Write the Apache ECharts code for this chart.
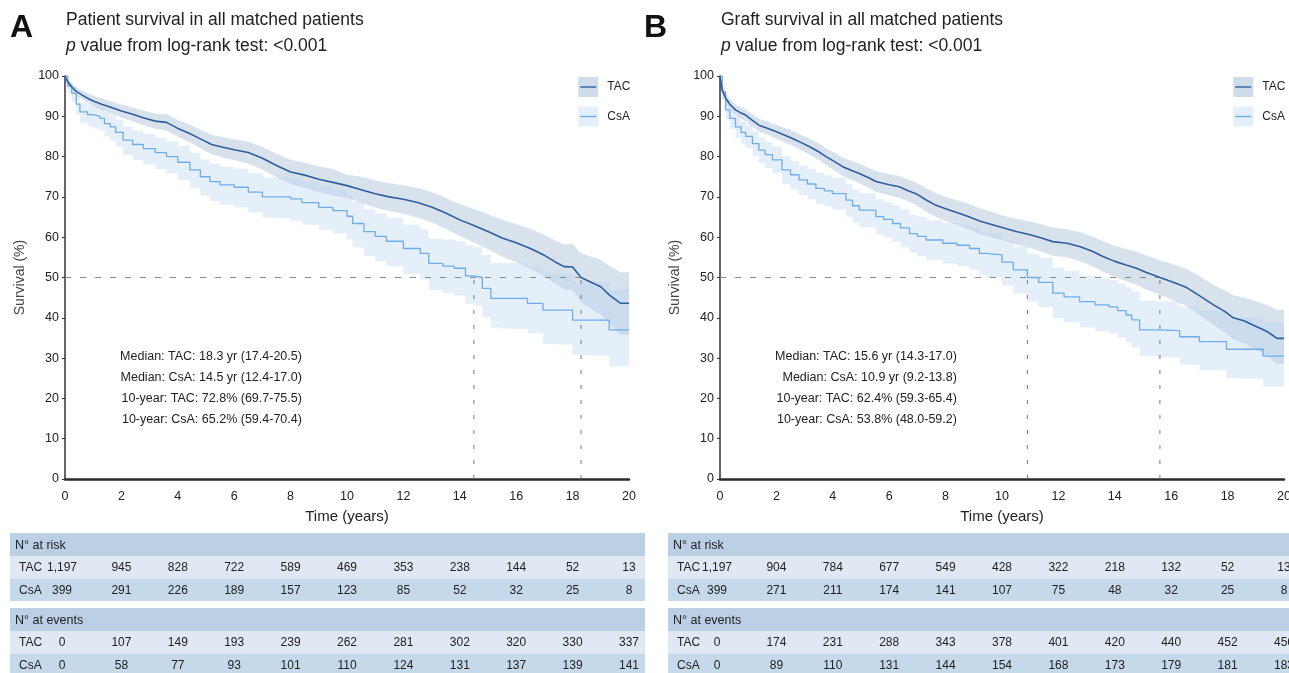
<!DOCTYPE html>
<html>
<head>
<meta charset="utf-8">
<script src="https://cdn.jsdelivr.net/npm/echarts@6/dist/echarts.min.js"></script>
<style>
  html, body { margin: 0; padding: 0; background: #fff; }
  #chart { width: 1289px; height: 673px; }
</style>
</head>
<body>
<div id="chart"></div>
<script>
// ---- shared axis ticks (years) ----
const yearTicks = [0, 2, 4, 6, 8, 10, 12, 14, 16, 18, 20];

// ---- Panel A: patient survival ----
const aTacT  = [0,0.1,0.25,0.4,0.6,0.8,1.0,1.3,1.6,2.0,2.4,2.8,3.2,3.6,4.0,4.4,4.8,5.2,5.6,6.0,6.5,7.0,7.5,8.0,8.5,9.0,9.5,10.0,10.5,11.0,11.5,12.0,12.5,13.0,13.5,14.0,14.5,15.0,15.5,16.0,16.5,17.0,17.4,17.7,18.0,18.3,18.6,19.0,19.3,19.7,20];
const aTacS  = [100,98.5,97.2,96.2,95.3,94.5,93.8,93.0,92.3,91.3,90.5,89.6,88.8,88.5,87.0,85.8,84.4,83.0,82.3,81.7,81.0,79.6,77.8,76.2,75.4,74.4,73.6,72.8,71.8,70.8,70.0,69.4,68.6,67.5,66.0,64.3,62.9,61.4,59.8,58.6,57.2,55.5,53.8,52.7,52.6,50.0,49.0,47.7,45.7,43.6,43.6];
const aTacLo = [100,97.8,96.3,95.2,94.2,93.3,92.5,91.6,90.8,89.7,88.8,87.8,86.9,86.5,84.9,83.6,82.1,80.6,79.8,79.1,78.3,76.8,74.9,73.2,72.3,71.2,70.3,69.7,68.5,67.4,66.5,65.8,64.9,63.7,62.1,60.3,58.7,57.0,55.2,53.8,52.2,50.3,48.4,47.1,46.8,44.0,42.5,40.8,38.4,35.8,35.8];
const aTacHi = [100,99.2,98.1,97.2,96.4,95.7,95.1,94.4,93.8,92.9,92.2,91.4,90.7,90.5,89.1,88.0,86.7,85.4,84.8,84.3,83.7,82.4,80.7,79.2,78.5,77.6,76.9,75.5,75.0,74.1,73.4,72.9,72.2,71.2,69.8,68.2,67.0,65.7,64.3,63.3,62.1,60.6,59.1,58.2,58.3,56.0,55.3,54.4,52.9,51.3,51.3];

const aCsaT  = [0,0.1,0.24,0.4,0.53,0.8,1.0,1.24,1.4,1.6,1.8,2.06,2.4,2.78,3.2,3.6,4.0,4.43,4.8,5.14,5.5,6.0,6.5,7.0,7.5,8.0,8.4,9.0,9.5,10.0,10.2,10.6,11.0,11.4,12.0,12.6,12.9,13.4,13.8,14.2,14.5,14.8,15.1,15.5,16.0,16.4,16.95,17.5,18.0,18.5,19.3,20];
const aCsaS  = [100,97.5,95.7,93.0,91.1,90.4,90.0,89.5,88.2,87.4,86.0,84.1,83.0,82.0,81.0,80.0,78.6,76.7,75.0,73.8,73.0,72.4,71.2,70.0,70.0,69.5,68.6,67.4,66.6,65.2,63.4,61.4,60.2,59.0,57.2,56.0,53.5,52.8,52.3,50.4,50.0,47.3,44.8,44.8,44.8,43.6,41.9,41.9,39.4,39.4,37.0,37.0];
const aCsaLo = [100,96.0,93.6,90.5,88.4,87.5,87.0,86.4,85.0,84.0,82.5,80.4,79.2,78.0,76.9,75.8,74.2,72.2,70.3,69.0,68.1,67.4,66.1,64.8,64.7,64.1,63.1,61.8,60.9,59.4,57.5,55.4,54.1,52.8,50.9,49.5,46.9,46.1,45.5,43.5,43.0,40.2,37.6,37.3,37.2,36.1,33.5,33.4,30.8,30.6,27.9,27.9];
const aCsaHi = [100,98.8,97.4,95.1,93.4,92.8,92.6,92.2,91.1,90.4,89.2,87.4,86.4,85.6,84.7,83.8,82.6,80.9,79.3,78.3,77.5,77.0,75.9,74.8,74.9,74.5,73.7,72.6,71.9,70.4,68.8,67.0,65.9,64.8,63.1,62.0,59.7,59.4,59.0,58.0,57.6,55.6,53.6,53.6,53.6,52.6,51.0,51.0,49.0,48.8,47.0,47.0];

const aMedianTac = 18.3;
const aMedianCsa = 14.5;
const aNotes = [
  'Median: TAC: 18.3 yr (17.4-20.5)',
  'Median: CsA: 14.5 yr (12.4-17.0)',
  '10-year: TAC: 72.8% (69.7-75.5)',
  '10-year: CsA: 65.2% (59.4-70.4)'
];
const aRiskTac   = [1197, 945, 828, 722, 589, 469, 353, 238, 144, 52, 13];
const aRiskCsa   = [399, 291, 226, 189, 157, 123, 85, 52, 32, 25, 8];
const aEventsTac = [0, 107, 149, 193, 239, 262, 281, 302, 320, 330, 337];
const aEventsCsa = [0, 58, 77, 93, 101, 110, 124, 131, 137, 139, 141];

// ---- Panel B: graft survival ----
const bTacT  = [0,0.08,0.2,0.35,0.55,0.75,0.91,1.15,1.38,1.7,1.98,2.3,2.57,2.9,3.16,3.5,3.76,4.05,4.35,4.65,4.94,5.25,5.53,6.0,6.36,6.65,6.95,7.3,7.66,8.1,8.5,8.85,9.2,9.6,10.0,10.5,11.0,11.4,11.8,12.3,12.75,13.2,13.58,14.0,14.4,14.77,15.1,15.6,16.0,16.55,17.0,17.5,17.9,18.2,18.6,18.9,19.4,19.75,20];
const bTacS  = [100,96.5,94.5,93.0,91.6,90.8,90.3,89.0,87.8,87.0,86.2,85.3,84.5,83.4,82.5,81.2,80.0,78.8,77.5,76.6,75.8,74.8,73.8,73.0,72.5,71.6,70.8,69.3,67.9,66.8,65.9,65.0,64.0,63.2,62.4,61.4,60.6,59.8,58.9,58.5,57.7,56.5,55.2,54.0,53.1,52.3,51.3,50.0,49.0,47.5,45.5,43.2,41.6,40.0,39.2,38.2,36.6,34.9,34.9];
const bTacLo = [100,95.5,93.4,91.8,90.3,89.4,88.9,87.5,86.2,85.4,84.5,83.5,82.7,81.5,80.5,79.2,77.9,76.6,75.2,74.3,73.4,72.3,71.3,70.4,69.8,68.9,68.0,66.4,65.0,63.8,62.8,61.9,60.8,60.0,59.3,58.2,57.3,56.4,55.4,55.0,54.1,52.8,51.4,50.1,49.1,48.2,47.1,45.7,44.6,42.9,40.7,38.2,36.4,34.6,33.6,32.4,30.5,28.6,28.6];
const bTacHi = [100,97.4,95.6,94.2,92.9,92.2,91.7,90.5,89.4,88.7,87.9,87.1,86.4,85.3,84.5,83.3,82.1,81.0,79.8,79.0,78.2,77.3,76.4,75.6,75.2,74.4,73.6,72.2,70.9,69.8,69.0,68.2,67.2,66.4,65.4,64.6,63.9,63.2,62.4,62.0,61.3,60.2,59.0,57.9,57.1,56.4,55.5,54.3,53.4,52.1,50.3,48.2,46.8,45.6,45.0,44.3,43.2,42.0,42.0];

const bCsaT  = [0,0.08,0.2,0.35,0.55,0.75,0.91,1.15,1.38,1.6,1.86,2.2,2.5,2.8,3.1,3.4,3.7,3.99,4.47,4.7,4.94,5.53,5.8,6.12,6.4,6.72,7.0,7.31,7.9,8.4,8.85,9.2,9.44,10.0,10.4,10.9,11.3,11.8,12.2,12.75,13.3,13.8,14.1,14.4,14.6,14.88,15.5,16.3,17.0,17.96,18.5,19.26,20];
const bCsaS  = [100,96.0,91.6,89.5,87.4,86.0,85.0,83.2,81.6,80.5,79.2,76.7,75.5,74.2,73.2,72.1,71.5,70.8,69.2,67.8,66.7,65.1,64.4,63.4,62.3,60.9,60.2,59.3,58.5,58.0,57.2,56.0,55.6,53.8,51.9,50.0,48.8,46.1,45.2,44.0,43.2,42.7,41.8,40.7,39.5,37.0,36.8,35.3,34.1,32.2,32.2,30.5,30.5];
const bCsaLo = [100,94.2,89.2,86.9,84.6,83.1,82.0,80.1,78.4,77.2,75.8,73.2,71.9,70.5,69.4,68.2,67.6,66.8,65.1,63.6,62.4,60.7,59.9,58.8,57.6,56.1,55.3,54.3,53.4,52.8,51.9,50.6,50.1,48.0,46.0,44.0,42.7,39.9,38.9,37.6,36.7,36.1,35.1,33.9,32.6,30.5,30.2,28.4,27.0,25.0,24.9,22.9,22.9];
const bCsaHi = [100,97.6,93.9,92.0,90.1,88.8,87.9,86.2,84.7,83.7,82.5,80.1,79.0,77.8,76.9,75.9,75.4,74.7,73.2,71.9,70.9,69.4,68.8,67.9,66.9,65.6,65.0,64.2,63.5,63.1,62.4,61.3,61.0,59.2,57.6,55.9,54.9,52.4,51.6,50.5,49.8,49.4,48.6,47.6,46.5,44.2,44.1,42.8,41.8,40.1,40.2,38.8,38.8];

const bMedianTac = 15.6;
const bMedianCsa = 10.9;
const bNotes = [
  'Median: TAC: 15.6 yr (14.3-17.0)',
  'Median: CsA: 10.9 yr (9.2-13.8)',
  '10-year: TAC: 62.4% (59.3-65.4)',
  '10-year: CsA: 53.8% (48.0-59.2)'
];
const bRiskTac   = [1197, 904, 784, 677, 549, 428, 322, 218, 132, 52, 13];
const bRiskCsa   = [399, 271, 211, 174, 141, 107, 75, 48, 32, 25, 8];
const bEventsTac = [0, 174, 231, 288, 343, 378, 401, 420, 440, 452, 456];
const bEventsCsa = [0, 89, 110, 131, 144, 154, 168, 173, 179, 181, 183];

// ---- styling ----
const FONT = "'Liberation Sans', Arial, Helvetica, sans-serif";
const TAC_LINE = '#2f5f9f';
const CSA_LINE = '#6caee8';
const TAC_BAND = '#9fb9d3';
const CSA_BAND = '#b3d4f2';
const HEAD_BG = '#bbd0e5';
const ROW_LIGHT = '#e0e9f3';
const ROW_DARK = '#c6d9ea';
const TEXT = '#222';

const panels = [
  {
    letter: 'A', title: 'Patient survival in all matched patients',
    tac: { t: aTacT, s: aTacS, lo: aTacLo, hi: aTacHi },
    csa: { t: aCsaT, s: aCsaS, lo: aCsaLo, hi: aCsaHi },
    medTac: aMedianTac, medCsa: aMedianCsa, notes: aNotes,
    risk: [aRiskTac, aRiskCsa], events: [aEventsTac, aEventsCsa],
    gridLeft: 65, tableLeft: 10, tableRight: 645, letterX: 10
  },
  {
    letter: 'B', title: 'Graft survival in all matched patients',
    tac: { t: bTacT, s: bTacS, lo: bTacLo, hi: bTacHi },
    csa: { t: bCsaT, s: bCsaS, lo: bCsaLo, hi: bCsaHi },
    medTac: bMedianTac, medCsa: bMedianCsa, notes: bNotes,
    risk: [bRiskTac, bRiskCsa], events: [bEventsTac, bEventsCsa],
    gridLeft: 720, tableLeft: 668, tableRight: 1300, letterX: 644
  }
];

const GRID_TOP = 76, GRID_H = 403, GRID_W = 564;

function pairs(t, v) { return t.map((x, i) => [x, v[i]]); }

// Confidence band: one polygon built from [time, lower, upper] rows,
// either stepped (Kaplan-Meier style) or joined point to point.
function bandSeries(idx, curve, color, opacity, stepped) {
  return {
    type: 'custom', xAxisIndex: idx, yAxisIndex: idx, silent: true, animation: false, z: 1,
    data: curve.t.map((t, i) => [t, curve.lo[i], curve.hi[i]]),
    encode: { x: 0, y: [1, 2] },
    renderItem: function (params, api) {
      if (params.dataIndexInside !== 0) return null;
      const n = params.dataInsideLength;
      const top = [], bottom = [];
      for (let k = 0; k < n; k++) {
        const t0 = api.value(0, k);
        const lo = api.value(1, k), hi = api.value(2, k);
        top.push(api.coord([t0, hi]));
        bottom.push(api.coord([t0, lo]));
        if (stepped && k + 1 < n) {
          const t1 = api.value(0, k + 1);
          top.push(api.coord([t1, hi]));
          bottom.push(api.coord([t1, lo]));
        }
      }
      return {
        type: 'polygon',
        shape: { points: top.concat(bottom.reverse()) },
        style: { fill: color, opacity: opacity }
      };
    }
  };
}

function curveSeries(idx, curve, color, width, step) {
  return {
    type: 'line', xAxisIndex: idx, yAxisIndex: idx, step: step, symbol: 'none',
    silent: true, animation: false, data: pairs(curve.t, curve.s),
    lineStyle: { color: color, width: width }, z: 4
  };
}

function refLine(idx, data, dash, color) {
  return {
    type: 'line', xAxisIndex: idx, yAxisIndex: idx, symbol: 'none', silent: true,
    animation: false, data: data, lineStyle: { color: color, width: 1, type: dash }, z: 3
  };
}

const series = [];
panels.forEach((p, i) => {
  series.push(bandSeries(i, p.tac, TAC_BAND, 0.42, false));
  series.push(bandSeries(i, p.csa, CSA_BAND, 0.36, true));
  const medMax = Math.max(p.medTac, p.medCsa);
  series.push(refLine(i, [[0, 50], [medMax, 50]], [6, 9], '#8a8a8a'));
  series.push(refLine(i, [[p.medCsa, 0], [p.medCsa, 50]], [4, 11], '#777'));
  series.push(refLine(i, [[p.medTac, 0], [p.medTac, 50]], [4, 11], '#777'));
  series.push(curveSeries(i, p.csa, CSA_LINE, 1.3, 'end'));
  series.push(curveSeries(i, p.tac, TAC_LINE, 1.6, false));
});

const chart = echarts.init(document.getElementById('chart'));

chart.setOption({
  animation: false,
  backgroundColor: '#fff',
  textStyle: { fontFamily: FONT },
  title: panels.map(p => ({
    text: p.title + '\n{i|p} value from log-rank test: <0.001',
    left: p.gridLeft + 1, top: 7, padding: 0,
    textStyle: {
      fontSize: 17.5, fontWeight: 'normal', color: TEXT, lineHeight: 26, fontFamily: FONT,
      rich: { i: { fontStyle: 'italic', fontSize: 17.5, color: TEXT, lineHeight: 26, fontFamily: FONT } }
    }
  })),
  grid: panels.map(p => ({
    left: p.gridLeft, top: GRID_TOP, width: GRID_W, height: GRID_H,
    containLabel: false, outerBoundsMode: 'none'
  })),
  xAxis: panels.map((p, i) => ({
    type: 'value', gridIndex: i, min: 0, max: 20, interval: 2,
    axisLine: { show: true, onZero: false, lineStyle: { color: '#2b2b2b', width: 2.5 } },
    axisTick: { show: false },
    splitLine: { show: false },
    axisLabel: { fontSize: 12.5, color: TEXT, margin: 11, fontFamily: FONT },
    name: 'Time (years)', nameLocation: 'middle', nameGap: 30,
    nameTextStyle: { fontSize: 15, color: TEXT, fontFamily: FONT }
  })),
  yAxis: panels.map((p, i) => ({
    type: 'value', gridIndex: i, min: 0, max: 100, interval: 10,
    axisLine: { show: true, onZero: false, lineStyle: { color: '#333', width: 1.5 } },
    axisTick: { show: true, length: 3, lineStyle: { color: '#333', width: 1 } },
    splitLine: { show: false },
    axisLabel: { fontSize: 12.5, color: TEXT, margin: 6, fontFamily: FONT },
    name: 'Survival (%)', nameLocation: 'middle', nameGap: 38, nameRotate: 90,
    nameTextStyle: { fontSize: 14, color: '#444', fontFamily: FONT }
  })),
  series: series
});

// ---- annotations, legend swatches and the number-at-risk tables ----
function txt(x, y, text, opts) {
  const o = opts || {};
  return {
    type: 'text', x: x, y: y, silent: true, z: 10,
    style: {
      text: text, fill: o.fill || TEXT,
      font: (o.weight || 'normal') + ' ' + (o.size || 12) + 'px ' + FONT,
      align: o.align || 'left', textAlign: o.align || 'left',
      verticalAlign: 'middle', textVerticalAlign: 'middle'
    }
  };
}
function rect(x, y, w, h, fill) {
  return { type: 'rect', silent: true, z: 5, shape: { x: x, y: y, width: w, height: h }, style: { fill: fill } };
}
function fmt(n) { return n.toLocaleString('en-US'); }

const graphics = [];
panels.forEach((p, i) => {
  const X = v => chart.convertToPixel({ xAxisIndex: i }, v);

  // panel letter
  graphics.push(txt(p.letterX, 28, p.letter, { size: 32, weight: 'bold', fill: '#111' }));

  // median / 10-year notes
  const noteRight = X(8.4);
  p.notes.forEach((n, k) => graphics.push(txt(noteRight, 357 + k * 20.7, n, { size: 12.5, align: 'right' })));

  // legend
  const lx = X(18.2);
  [[TAC_BAND, 0.5, TAC_LINE, 'TAC'], [CSA_BAND, 0.36, CSA_LINE, 'CsA']].forEach((it, k) => {
    const cy = 87 + k * 29.5;
    graphics.push({ type: 'rect', silent: true, z: 6, shape: { x: lx, y: cy - 10, width: 20, height: 20 }, style: { fill: it[0], opacity: it[1] } });
    graphics.push({ type: 'line', silent: true, z: 7, shape: { x1: lx + 2, y1: cy, x2: lx + 18, y2: cy }, style: { stroke: it[2], lineWidth: 1.4 } });
    graphics.push(txt(lx + 29, cy, it[3], { size: 12 }));
  });

  // tables
  const tw = p.tableRight - p.tableLeft;
  const blocks = [
    { head: 'N\u00b0 at risk', top: 533, rows: p.risk },
    { head: 'N\u00b0 at events', top: 608, rows: p.events }
  ];
  blocks.forEach(b => {
    const hH = 23, rH = 22.5;
    graphics.push(rect(p.tableLeft, b.top, tw, hH, HEAD_BG));
    graphics.push(rect(p.tableLeft, b.top + hH, tw, rH, ROW_LIGHT));
    graphics.push(rect(p.tableLeft, b.top + hH + rH, tw, rH, ROW_DARK));
    graphics.push(txt(p.tableLeft + 5, b.top + hH / 2 + 1, b.head, { size: 12.5 }));
    ['TAC', 'CsA'].forEach((lab, r) => {
      const cy = b.top + hH + rH * r + rH / 2 + 0.5;
      graphics.push(txt(p.tableLeft + 9, cy, lab, { size: 12 }));
      b.rows[r].forEach((v, k) => {
        const cx = X(yearTicks[k]) + (k === 0 ? -3 : 0);
        graphics.push(txt(cx, cy, fmt(v), { size: 12, align: 'center' }));
      });
    });
  });
});

chart.setOption({ graphic: { elements: graphics } });
</script>
</body>
</html>
